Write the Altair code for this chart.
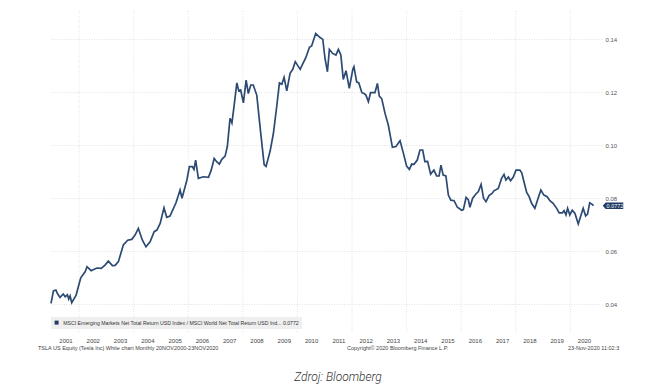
import altair as alt
import pandas as pd

# --- data (decimal years, ratio EM/World) ---
time_years = [
    2000.97, 2001.06, 2001.15, 2001.21, 2001.30, 2001.42, 2001.49, 2001.57, 2001.62, 2001.67,
    2001.73, 2001.89, 2002.06, 2002.22, 2002.29, 2002.44, 2002.65, 2002.81, 2002.95, 2003.07,
    2003.22, 2003.32, 2003.44, 2003.62, 2003.78, 2003.93, 2004.05, 2004.17, 2004.32, 2004.45,
    2004.60, 2004.75, 2004.85, 2004.97, 2005.11, 2005.21, 2005.33, 2005.55, 2005.70, 2005.77,
    2005.95, 2006.04, 2006.15, 2006.21, 2006.27, 2006.37, 2006.55, 2006.74, 2006.84, 2006.95,
    2007.04, 2007.14, 2007.23, 2007.35, 2007.43, 2007.53, 2007.60, 2007.69, 2007.78, 2007.85,
    2007.92, 2008.02, 2008.12, 2008.20, 2008.29, 2008.38, 2008.51, 2008.65, 2008.78, 2008.85,
    2009.00, 2009.12, 2009.24, 2009.34, 2009.43, 2009.51, 2009.61, 2009.73, 2009.83, 2009.92,
    2010.10, 2010.19, 2010.31, 2010.44, 2010.52, 2010.67, 2010.83, 2010.93, 2011.01, 2011.10,
    2011.17, 2011.29, 2011.41, 2011.50, 2011.59, 2011.68, 2011.78, 2011.90, 2012.03, 2012.07,
    2012.17, 2012.25, 2012.36, 2012.44, 2012.51, 2012.60, 2012.68, 2012.84, 2012.93, 2013.00,
    2013.09, 2013.21, 2013.33, 2013.48, 2013.61, 2013.76, 2013.88, 2014.00, 2014.10, 2014.19,
    2014.27, 2014.39, 2014.49, 2014.59, 2014.67, 2014.77, 2014.88, 2015.00, 2015.10, 2015.19,
    2015.26, 2015.34, 2015.44, 2015.53, 2015.62, 2015.74, 2015.86, 2016.02, 2016.08, 2016.18,
    2016.26, 2016.32, 2016.42, 2016.54, 2016.63, 2016.73, 2016.82, 2016.91, 2017.02, 2017.13,
    2017.20, 2017.36, 2017.48, 2017.57, 2017.64, 2017.73, 2017.81, 2017.91, 2018.01, 2018.15,
    2018.22, 2018.30, 2018.40, 2018.49, 2018.58, 2018.70, 2018.82, 2018.92, 2019.03, 2019.15,
    2019.25, 2019.37, 2019.50, 2019.59, 2019.71, 2019.77, 2019.84, 2019.90, 2019.98, 2020.07,
    2020.17, 2020.29, 2020.41, 2020.47, 2020.56, 2020.63, 2020.71, 2020.79, 2020.85,
]
ratio_values = [
    0.0404, 0.0451, 0.0454, 0.0440, 0.0426, 0.0439, 0.0429, 0.0436, 0.0420, 0.0432,
    0.0406, 0.0435, 0.0500, 0.0523, 0.0542, 0.0527, 0.0537, 0.0536, 0.0548, 0.0563,
    0.0546, 0.0547, 0.0561, 0.0624, 0.0642, 0.0645, 0.0661, 0.0686, 0.0642, 0.0617,
    0.0636, 0.0674, 0.0680, 0.0705, 0.0764, 0.0728, 0.0733, 0.0783, 0.0831, 0.0800,
    0.0869, 0.0919, 0.0919, 0.0909, 0.0944, 0.0875, 0.0881, 0.0879, 0.0906, 0.0950,
    0.0938, 0.0929, 0.0947, 0.0959, 0.0994, 0.1101, 0.1084, 0.1158, 0.1235, 0.1205,
    0.1208, 0.1160, 0.1245, 0.1195, 0.1227, 0.1227, 0.1189, 0.1050, 0.0927, 0.0920,
    0.0978, 0.1045, 0.1145, 0.1235, 0.1230, 0.1256, 0.1205, 0.1271, 0.1286, 0.1315,
    0.1286, 0.1306, 0.1331, 0.1369, 0.1374, 0.1421, 0.1406, 0.1399, 0.1327, 0.1277,
    0.1361, 0.1346, 0.1340, 0.1361, 0.1340, 0.1248, 0.1281, 0.1214, 0.1286, 0.1296,
    0.1239, 0.1235, 0.1198, 0.1195, 0.1189, 0.1164, 0.1198, 0.1198, 0.1233, 0.1185,
    0.1175, 0.1120, 0.1076, 0.0992, 0.0995, 0.1017, 0.0971, 0.0921, 0.0909, 0.0929,
    0.0928, 0.0944, 0.0982, 0.0982, 0.0938, 0.0939, 0.0891, 0.0906, 0.0884, 0.0884,
    0.0925, 0.0887, 0.0884, 0.0812, 0.0793, 0.0791, 0.0766, 0.0755, 0.0757, 0.0803,
    0.0795, 0.0766, 0.0800, 0.0816, 0.0825, 0.0852, 0.0800, 0.0787, 0.0810, 0.0818,
    0.0828, 0.0837, 0.0875, 0.0890, 0.0869, 0.0880, 0.0866, 0.0880, 0.0906, 0.0906,
    0.0896, 0.0862, 0.0822, 0.0806, 0.0781, 0.0762, 0.0800, 0.0831, 0.0812, 0.0806,
    0.0791, 0.0781, 0.0762, 0.0745, 0.0745, 0.0753, 0.0737, 0.0762, 0.0737, 0.0755,
    0.0743, 0.0703, 0.0743, 0.0762, 0.0733, 0.0740, 0.0783, 0.0778, 0.0772,
]
year_labels = list(range(2001, 2021))
grid_years = [2002, 2004, 2006, 2008, 2010, 2012, 2014, 2016, 2018, 2020]
y_ticks = [0.04, 0.06, 0.08, 0.10, 0.12, 0.14]
last_value = [0.0772]
last_label = ["0.0772"]
series_name = "MSCI Emerging Markets Net Total Return USD Index / MSCI World Net Total Return USD Ind... 0.0772"
footer_left = "TSLA US Equity (Tesla Inc) White chart  Monthly 20NOV2000-23NOV2020"
footer_mid = "Copyright\u00a9 2020 Bloomberg Finance L.P."
footer_right = "23-Nov-2020 11:02:3"
caption = "Zdroj: Bloomberg"

FONT = "Liberation Sans"
LINE = "#2c4a72"
NAVY = "#1f3b64"
GRID = "#dcdcdc"

df = pd.DataFrame({"t": time_years, "v": ratio_values, "series": series_name})
x_scale = alt.Scale(domain=[2000.97, 2021.16], nice=False, zero=False)
y_scale = alt.Scale(domain=[0.0292, 0.1506], nice=False, zero=False)

x_axis = alt.Axis(
    values=[y + 0.5 for y in year_labels],
    labelExpr="floor(datum.value)",
    grid=False, domain=False, ticks=False, title=None,
    labelFont=FONT, labelFontSize=6, labelColor="#444",
    labelPadding=4, labelFlush=False, labelOverlap=False,
)
y_axis = alt.Axis(
    orient="right", values=y_ticks, format=".2f", title=None,
    grid=True, gridColor=GRID, gridDash=[1, 1.5], gridWidth=0.8,
    domain=False, ticks=False, labelFont=FONT, labelFontSize=6,
    labelColor="#555", labelPadding=3,
)

line = alt.Chart(df).mark_line(strokeWidth=1.7, interpolate="linear").encode(
    x=alt.X("t:Q", scale=x_scale, axis=x_axis),
    y=alt.Y("v:Q", scale=y_scale, axis=y_axis),
    color=alt.Color(
        "series:N",
        scale=alt.Scale(range=[LINE]),
        legend=alt.Legend(
            orient="none", legendX=0, legendY=306, title=None,
            fillColor="#efefef", padding=3, symbolType="square",
            symbolSize=16, symbolFillColor=NAVY, symbolStrokeWidth=0,
            labelFont=FONT, labelFontSize=5.2, labelColor="#333",
            labelLimit=800, offset=0,
        ),
    ),
)

vgrid = alt.Chart(pd.DataFrame({"t": grid_years})).mark_rule(
    color=GRID, strokeDash=[1, 1.5], strokeWidth=0.8
).encode(x=alt.X("t:Q", scale=x_scale, axis=x_axis))

tag_df = pd.DataFrame({"v": last_value, "label": last_label})
tag_shape = alt.Chart(tag_df).mark_point(
    shape="M-1,0L-0.72,-0.32L1,-0.32L1,0.32L-0.72,0.32Z",
    size=420, filled=True, color=NAVY, opacity=1,
).encode(x=alt.value(562), y=alt.Y("v:Q", scale=y_scale, axis=y_axis))
tag_text = alt.Chart(tag_df).mark_text(
    color="white", fontSize=5.5, font=FONT, align="center", baseline="middle"
).encode(x=alt.value(564), y=alt.Y("v:Q", scale=y_scale, axis=y_axis), text="label:N")


def note(txt, x, y, size=5.5, align="left", color="#444", style="normal", font=FONT, weight="normal"):
    return alt.Chart(pd.DataFrame({"s": [txt]})).mark_text(
        fontSize=size, font=font, align=align, baseline="middle", color=color,
        fontStyle=style, fontWeight=weight,
    ).encode(x=alt.value(x), y=alt.value(y), text="s:N")


chart = alt.layer(
    vgrid,
    line,
    tag_shape,
    tag_text,
    note(footer_left, -13, 337),
    note(footer_mid, 296, 337),
    note(footer_right, 517, 337),
    note(caption, 287, 366, size=12, align="center", color="#333", style="italic", font="Roboto", weight=300),
).properties(
    width=551,
    height=322,
    background="white",
    autosize=alt.AutoSizeParams(type="none"),
    padding={"left": 43, "top": 3, "right": 50, "bottom": 55},
).configure_view(strokeWidth=0, stroke="transparent")

chart.save("out.html", embed_options={"renderer": "svg", "actions": False})
